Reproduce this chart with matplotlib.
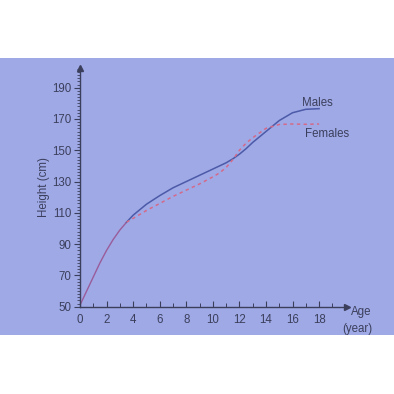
import matplotlib.pyplot as plt
from matplotlib.ticker import MultipleLocator
import numpy as np

plt.rcParams['font.family'] = ['Liberation Sans', 'DejaVu Sans']

# shared early growth (both sexes on top of each other)
age_common = [0, 0.5, 1, 1.5, 2, 2.5, 3, 3.5]
height_common = [51, 60, 69, 78, 86, 93, 99, 104]

age_m = [3.5, 4, 5, 6, 7, 8, 9, 10, 11, 11.5, 12, 12.5, 13, 14, 15, 16, 17, 18]
height_m = [104, 108.5, 115.5, 121, 126, 130, 134, 138, 142, 144.5, 147.5, 151, 155, 162, 169, 174, 176.2, 176.6]

age_f = [3.5, 4, 5, 6, 7, 8, 9, 10, 10.5, 11, 11.5, 12, 12.5, 13, 14, 15, 16, 17, 18]
height_f = [104, 106.5, 111.5, 116, 120.5, 124.5, 128.5, 133, 135.5, 139, 144, 150, 154.5, 158, 164, 166.5, 166.8, 166.6, 166.8]

bg = '#9ea9e6'
male_col = '#4c5aa8'
fem_col = '#d46a8a'
txt = '#3c3f5c'

fig = plt.figure(figsize=(3.94, 3.94), dpi=100)
fig.patch.set_facecolor('white')
# photo-like blue panel behind everything
bgax = fig.add_axes([0, 1 - 335/394, 1, (335 - 58)/394], zorder=-1)
bgax.set_axis_off()
bgax.add_patch(plt.Rectangle((0, 0), 1, 1, color=bg, transform=bgax.transAxes))

ax = fig.add_axes([80/394, 1 - 306.7/394, 267/394, (306.7 - 68)/394])
ax.set_facecolor('none')
ax.set_xlim(0, 20.1)
ax.set_ylim(50, 202.6)

ax.plot(age_common, height_common, color='#9a5c9a', lw=1.0, solid_capstyle='round')
ax.plot(age_m, height_m, color=male_col, lw=1.1)
ax.plot(age_f, height_f, color=fem_col, lw=1.1, ls=(0, (2.2, 2.2)))

for s in ['top', 'right']:
    ax.spines[s].set_visible(False)
for s in ['left', 'bottom']:
    ax.spines[s].set_color(txt)
    ax.spines[s].set_linewidth(1.0)

# arrow heads at the ends of the axes
ax.plot(1, 0, '>', color=txt, ms=4, transform=ax.transAxes, clip_on=False)
ax.plot(0, 1, '^', color=txt, ms=4, transform=ax.transAxes, clip_on=False)

ax.set_xticks(range(0, 19, 2))
ax.xaxis.set_minor_locator(plt.FixedLocator(range(0, 20)))
ax.set_yticks(range(50, 191, 20))
ax.yaxis.set_minor_locator(MultipleLocator(2))
ax.tick_params(axis='x', which='major', direction='in', length=4, width=0.8,
               colors=txt, labelsize=8.3, pad=5)
ax.tick_params(axis='x', which='minor', direction='in', length=3, width=0.7, colors=txt)
ax.tick_params(axis='y', which='major', direction='out', length=4, width=0.8,
               colors=txt, labelsize=8.3, pad=2)
ax.tick_params(axis='y', which='minor', direction='out', length=2, width=0.6, colors=txt)

ax.set_ylabel('Height (cm)', fontsize=8.3, color=txt, labelpad=2)

ax.text(17.9, 176.5, 'Males', fontsize=8.3, color=txt, ha='center', va='bottom')
ax.text(18.6, 156.5, 'Females', fontsize=8.3, color=txt, ha='center', va='bottom')
ax.text(21.2, 46.5, 'Age', fontsize=8.3, color=txt, ha='center', va='center', clip_on=False)
ax.text(20.9, 36, '(year)', fontsize=8.3, color=txt, ha='center', va='center', clip_on=False)

fig.savefig('out.png', dpi=100, facecolor='white')
